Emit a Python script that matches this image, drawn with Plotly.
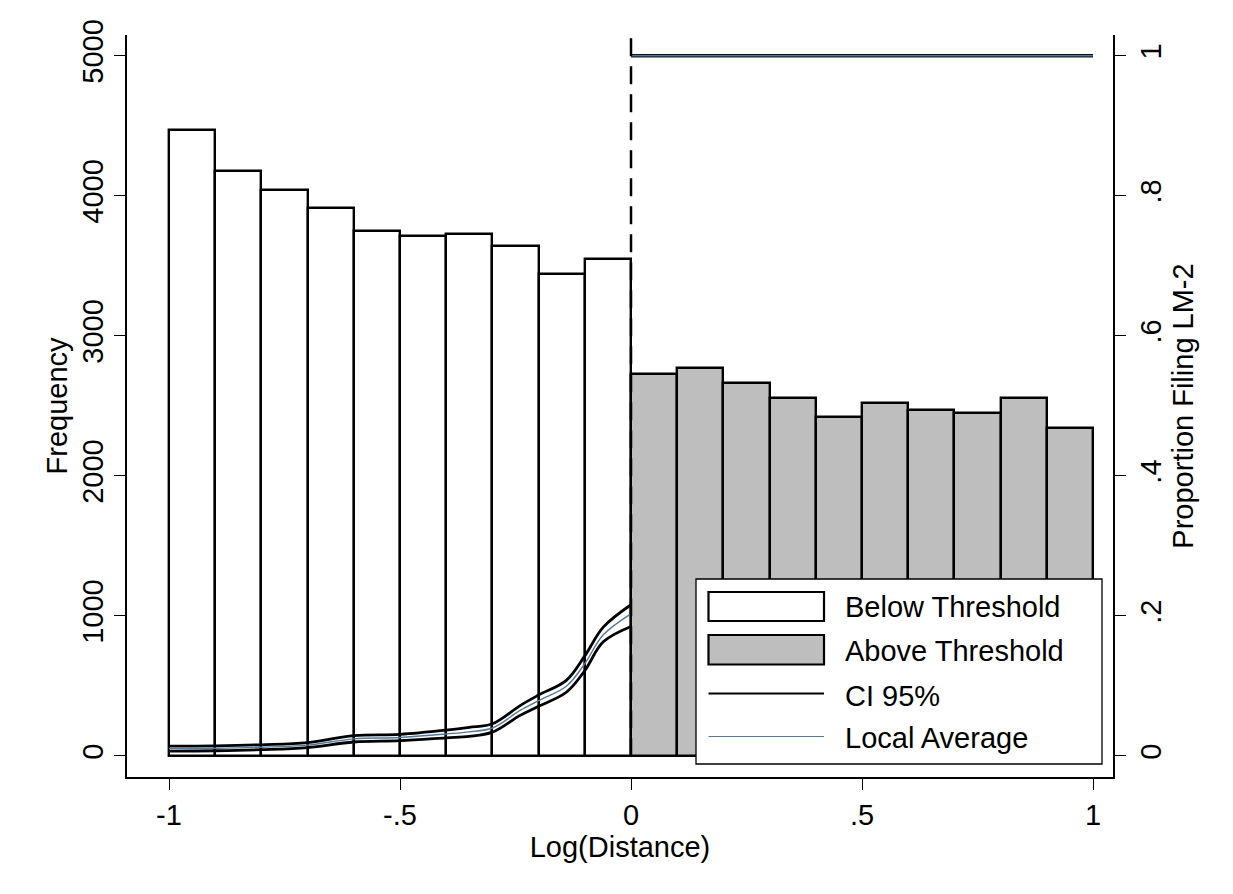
import plotly.graph_objects as go

# ---- data ----
below_centers = [-0.95, -0.85, -0.75, -0.65, -0.55, -0.45, -0.35, -0.25, -0.15, -0.05]
below_freq = [4467, 4176, 4039, 3910, 3750, 3714, 3724, 3641, 3443, 3550]
above_centers = [0.05, 0.15, 0.25, 0.35, 0.45, 0.55, 0.65, 0.75, 0.85, 0.95]
above_freq = [2724, 2771, 2664, 2557, 2421, 2517, 2474, 2446, 2553, 2343]

left_x = [-1.0, -0.9, -0.8, -0.7, -0.6, -0.5, -0.4, -0.35, -0.3, -0.24, -0.2, -0.14, -0.1, -0.06, 0.0]
ci_upper_left = [0.014, 0.0145, 0.016, 0.019, 0.029, 0.031, 0.037, 0.041, 0.046, 0.072, 0.087, 0.108, 0.143, 0.184, 0.216]
ci_lower_left = [0.007, 0.0075, 0.009, 0.012, 0.020, 0.022, 0.026, 0.028, 0.034, 0.058, 0.071, 0.091, 0.122, 0.163, 0.185]
avg_left = [0.0105, 0.011, 0.0125, 0.0155, 0.0245, 0.0265, 0.0315, 0.0345, 0.040, 0.065, 0.079, 0.0995, 0.132, 0.173, 0.203]

right_x = [0.0, 0.25, 0.5, 0.75, 1.0]
ci_upper_right = [1.0, 1.0, 1.0, 1.0, 1.0]
ci_lower_right = [1.0, 1.0, 1.0, 1.0, 1.0]
avg_right = [1.0, 1.0, 1.0, 1.0, 1.0]

x_ticks = [-1, -0.5, 0, 0.5, 1]
x_ticklabels = ["-1", "-.5", "0", ".5", "1"]
y_ticks = [0, 1000, 2000, 3000, 4000, 5000]
y_ticklabels = ["0", "1000", "2000", "3000", "4000", "5000"]
y2_ticks = [0, 0.2, 0.4, 0.6, 0.8, 1.0]
y2_ticklabels = ["0", ".2", ".4", ".6", ".8", "1"]

legend_labels = ["Below Threshold", "Above Threshold", "CI 95%", "Local Average"]

GRAY = "#bebebe"
BLUE = "#52789b"
FONT = "Liberation Sans, Arial, sans-serif"
FS = 29

fig = go.Figure()
fig.add_trace(go.Bar(x=below_centers, y=below_freq, width=0.1, name=legend_labels[0],
                     marker=dict(color="white", line=dict(color="black", width=2.4)),
                     showlegend=False))
fig.add_trace(go.Bar(x=above_centers, y=above_freq, width=0.1, name=legend_labels[1],
                     marker=dict(color=GRAY, line=dict(color="black", width=2.4)),
                     showlegend=False))

for xs, ys in [(left_x, ci_upper_left), (left_x, ci_lower_left),
               (right_x, ci_upper_right), (right_x, ci_lower_right)]:
    fig.add_trace(go.Scatter(x=xs, y=ys, mode="lines", yaxis="y2", name=legend_labels[2],
                             line=dict(color="black", width=2.8, shape="spline", smoothing=1.0),
                             showlegend=False))
for xs, ys in [(left_x, avg_left), (right_x, avg_right)]:
    fig.add_trace(go.Scatter(x=xs, y=ys, mode="lines", yaxis="y2", name=legend_labels[3],
                             line=dict(color=BLUE, width=1.4, shape="spline", smoothing=1.0),
                             showlegend=False))

# threshold line
fig.add_shape(type="line", xref="x", yref="paper", x0=0, x1=0, y0=0.028, y1=1,
              line=dict(color="black", width=2.5, dash="18px,10px"), layer="above")

# custom legend (paper coords; plot area spans 986 x 742 px)
def px2x(px):
    return (px - 127) / 986.0

def py2y(py):
    return (777 - py) / 742.0

fig.add_shape(type="rect", xref="paper", yref="paper", x0=px2x(696), x1=px2x(1102),
              y0=py2y(764), y1=py2y(579), line=dict(color="black", width=1.3),
              fillcolor="white", layer="above")
fig.add_shape(type="rect", xref="paper", yref="paper", x0=px2x(708.5), x1=px2x(824),
              y0=py2y(621), y1=py2y(592), line=dict(color="black", width=2.2),
              fillcolor="white", layer="above")
fig.add_shape(type="rect", xref="paper", yref="paper", x0=px2x(708.5), x1=px2x(824),
              y0=py2y(664.5), y1=py2y(635), line=dict(color="black", width=2.2),
              fillcolor=GRAY, layer="above")
fig.add_shape(type="line", xref="paper", yref="paper", x0=px2x(708.5), x1=px2x(824),
              y0=py2y(693.5), y1=py2y(693.5), line=dict(color="black", width=2.2), layer="above")
fig.add_shape(type="line", xref="paper", yref="paper", x0=px2x(708.5), x1=px2x(824),
              y0=py2y(736.5), y1=py2y(736.5), line=dict(color=BLUE, width=1.2), layer="above")
for lab, py in zip(legend_labels, [607, 651, 696, 738]):
    fig.add_annotation(text=lab, xref="paper", yref="paper", x=px2x(843), y=py2y(py),
                       xanchor="left", yanchor="middle", showarrow=False,
                       font=dict(family=FONT, size=FS, color="black"))

axis_common = dict(showgrid=False, zeroline=False, showline=True, linecolor="black",
                   linewidth=1.6, ticks="outside", ticklen=11, tickwidth=1.4, tickcolor="black",
                   tickfont=dict(family=FONT, size=FS, color="black"))

# page body has an 8px default margin, so the figure is shifted by 8px
fig.update_layout(
    width=1225, height=886,
    margin=dict(l=119, r=120, t=27, b=117),
    paper_bgcolor="white", plot_bgcolor="white",
    barmode="overlay", bargap=0,
    showlegend=False,
    font=dict(family=FONT, size=FS, color="black"),
    xaxis=dict(range=[-1.0909, 1.0433], tickvals=x_ticks, ticktext=x_ticklabels,
               title=dict(text="Log(Distance)", font=dict(family=FONT, size=FS), standoff=0),
               **axis_common),
    yaxis=dict(range=[-150, 5148], tickvals=y_ticks, ticktext=y_ticklabels, tickangle=-90,
               title=dict(text="Frequency", font=dict(family=FONT, size=FS), standoff=0),
               **axis_common),
    yaxis2=dict(range=[-0.0300, 1.0296], tickvals=y2_ticks, ticktext=y2_ticklabels, tickangle=-90,
                overlaying="y", side="right", anchor="x",
                title=dict(text="Proportion Filing LM-2", font=dict(family=FONT, size=FS), standoff=0),
                **axis_common),
)

fig.write_html("out.html")
